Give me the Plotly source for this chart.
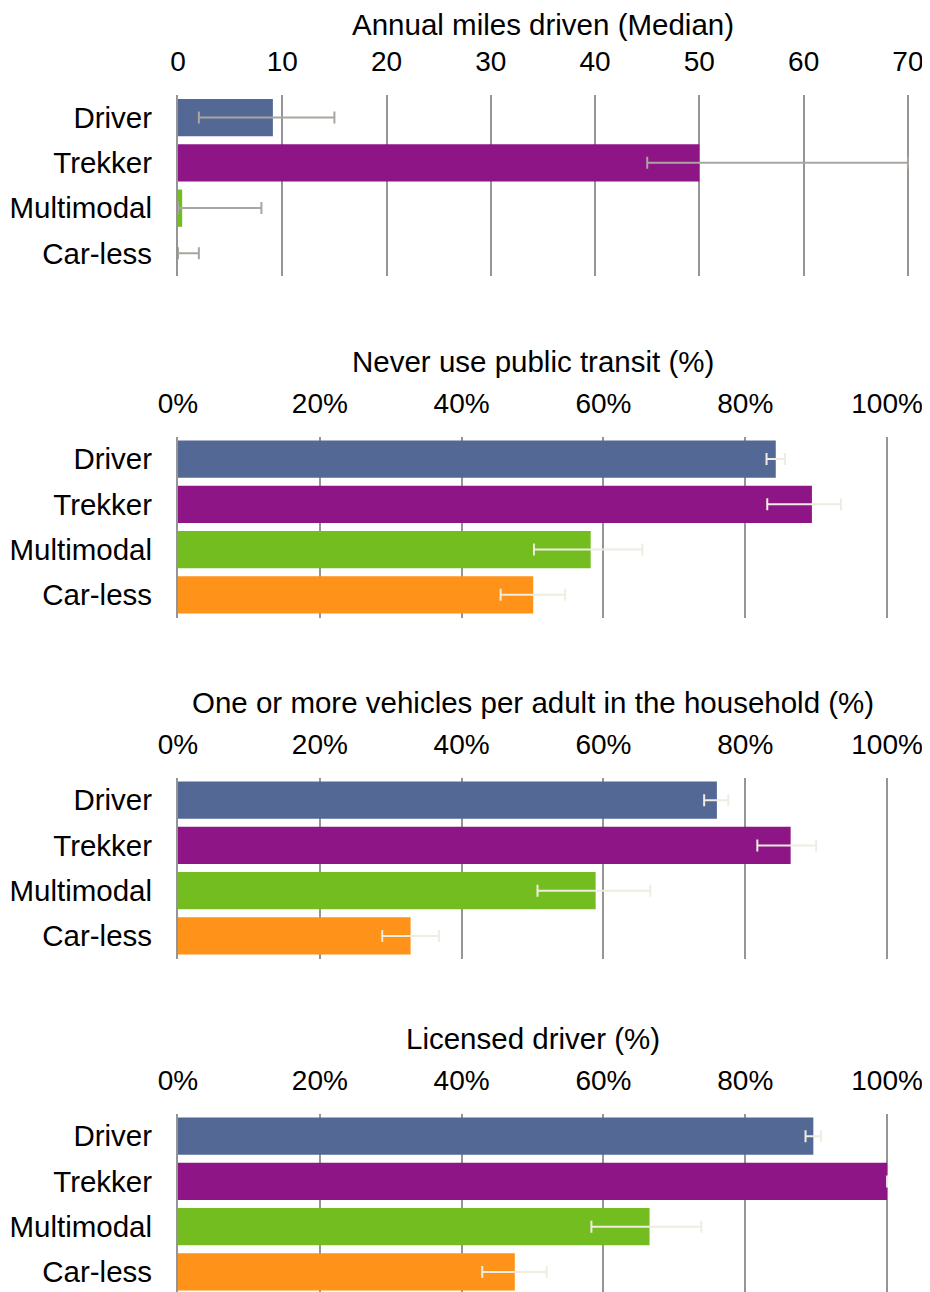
import plotly.graph_objects as go

categories = ["Driver", "Trekker", "Multimodal", "Car-less"]
colors = ["#536895", "#8E1586", "#73BD20", "#FF9219"]

titles = [
    "Annual miles driven (Median)",
    "Never use public transit (%)",
    "One or more vehicles per adult in the household (%)",
    "Licensed driver (%)",
]

miles = [9.1, 50.0, 0.4, 0.0]
miles_low = [2.0, 45.0, 0.0, 0.0]
miles_high = [15.0, 70.0, 8.0, 2.0]

transit = [84.3, 89.4, 58.2, 50.1]
transit_low = [83.0, 83.1, 50.2, 45.5]
transit_high = [85.6, 93.5, 65.5, 54.6]

vehicles = [76.0, 86.4, 58.9, 32.8]
vehicles_low = [74.2, 81.7, 50.7, 28.8]
vehicles_high = [77.6, 90.0, 66.6, 36.8]

licensed = [89.6, 100.0, 66.5, 47.5]
licensed_low = [88.5, 100.0, 58.3, 42.9]
licensed_high = [90.7, 100.0, 73.8, 52.0]

panels = [
    (miles, miles_low, miles_high, "#AAA5A0"),
    (transit, transit_low, transit_high, "#EFECE2"),
    (vehicles, vehicles_low, vehicles_high, "#EFECE2"),
    (licensed, licensed_low, licensed_high, "#EFECE2"),
]

W, H = 930, 1292
FONT = "Liberation Sans, Arial, sans-serif"
GRID = "#959595"
OFF = 8  # page body margin

# pixel layout of plot areas in page coords (top, bottom, left, right)
boxes = [
    (95, 276, 178, 909.5),
    (436.5, 617.5, 178, 888.5),
    (777.5, 958.5, 178, 888.5),
    (1113.5, 1294.5, 178, 888.5),
]
title_centers = [543, 532.5, 532.5, 532.5]
title_shifts = [71, 75, 75, 75]
ranges = [[0, 70.15], [0, 100.2], [0, 100.2], [0, 100.2]]

fig = go.Figure()
layout = dict(
    width=W, height=H,
    margin=dict(l=0, r=0, t=0, b=0, autoexpand=False),
    paper_bgcolor="white", plot_bgcolor="white",
    showlegend=False, bargap=0.18,
    font=dict(family=FONT, size=28, color="black"),
)
annotations = []
for i, ((vals, lo, hi, ecol), (top, bot, left, right)) in enumerate(zip(panels, boxes)):
    top, bot, left, right = top - OFF, bot - OFF, left - OFF, right - OFF
    n = "" if i == 0 else str(i + 1)
    plus = [h - v for v, h in zip(vals, hi)]
    minus = [v - l for v, l in zip(vals, lo)]
    fig.add_trace(go.Bar(
        x=vals, y=categories, orientation="h",
        marker=dict(color=colors, line=dict(width=0)),
        error_x=dict(type="data", symmetric=False, array=plus, arrayminus=minus,
                     color=ecol, thickness=2, width=6),
        xaxis="x" + n, yaxis="y" + n,
    ))
    xd = [left / W, right / W]
    yd = [(H - bot) / H, (H - top) / H]
    xa = dict(
        domain=xd, range=ranges[i], side="top", anchor="y" + n,
        showgrid=True, gridcolor=GRID, gridwidth=2, zeroline=False,
        ticks="", ticklabelstandoff=17, automargin=False,
        tickfont=dict(family=FONT, size=28, color="black"),
        dtick=10 if i == 0 else 20,
        ticksuffix="" if i == 0 else "%",
        fixedrange=True,
    )
    ya = dict(
        domain=yd, anchor="x" + n, autorange="reversed",
        showgrid=False, zeroline=False, showline=True, linecolor=GRID, linewidth=2,
        ticks="", ticklabelstandoff=18, automargin=False,
        tickfont=dict(family=FONT, size=29.5, color="black"),
        categoryorder="array", categoryarray=categories,
        fixedrange=True,
    )
    layout["xaxis" + n] = xa
    layout["yaxis" + n] = ya
    annotations.append(dict(
        text=titles[i], xref="paper", yref="paper",
        x=(title_centers[i] - OFF) / W,
        y=(H - top) / H, yshift=title_shifts[i], xanchor="center", yanchor="middle",
        showarrow=False, font=dict(family=FONT, size=29.5, color="black"),
    ))
layout["annotations"] = annotations
fig.update_layout(**layout)
fig.write_html("out.html")
